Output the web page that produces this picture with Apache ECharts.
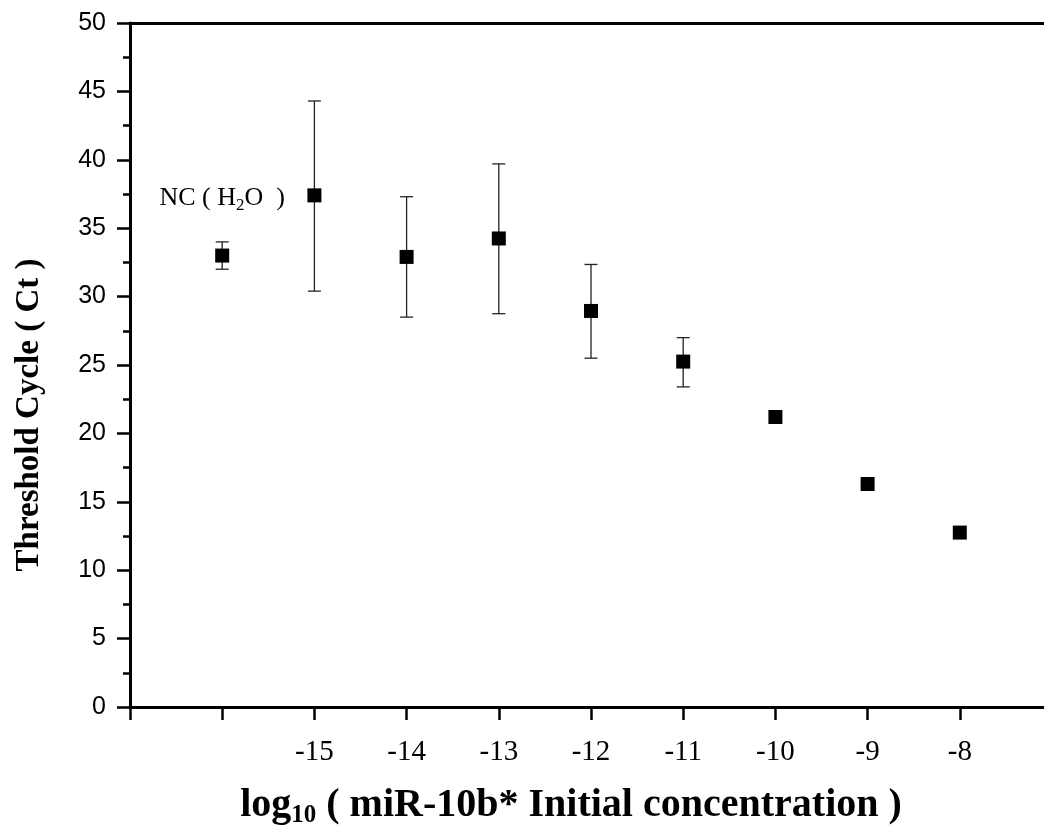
<!DOCTYPE html>
<html><head><meta charset="utf-8">
<script src="https://cdn.jsdelivr.net/npm/echarts@6/dist/echarts.min.js"></script>
<style>html,body{margin:0;padding:0;background:#fff;overflow:hidden}#c{width:1044px;height:827px}</style>
</head><body><div id="c"></div>
<script>
// log10 initial concentration (-16 = NC (H2O) control position)
const concentrations = [-16, -15, -14, -13, -12, -11, -10, -9, -8];
const thresholdCycle = [33.0, 37.4, 32.9, 34.25, 28.95, 25.25, 21.2, 16.3, 12.75];
const errorLow  = [32.0, 30.4, 28.5, 28.75, 25.5, 23.4, null, null, null];
const errorHigh = [34.0, 44.3, 37.3, 39.7, 32.35, 27.0, null, null, null];
const labeledXTicks = [-15, -14, -13, -12, -11, -10, -9, -8];
const ncLabel = '{n|NC ( H}{s|2}{n|O  )}';

const scatterData = concentrations.map((x, i) => {
  const item = { value: [x, thresholdCycle[i]] };
  if (i === 0) {
    item.label = {
      show: true, position: 'top', distance: 35,
      formatter: ncLabel,
      rich: {
        n: { fontFamily: 'Liberation Serif', fontSize: 26, color: '#000', lineHeight: 30, verticalAlign: 'middle' },
        s: { fontFamily: 'Liberation Serif', fontSize: 17, color: '#000', lineHeight: 12, verticalAlign: 'bottom' }
      }
    };
  }
  return item;
});
const errData = [];
concentrations.forEach((x, i) => {
  if (errorLow[i] != null) errData.push([x, errorLow[i], errorHigh[i]]);
});

const chart = echarts.init(document.getElementById('c'), null, { renderer: 'canvas' });
chart.setOption({
  backgroundColor: '#fff',
  animation: false,
  grid: { left: 130, top: 23, bottom: 120, right: -8, containLabel: false, outerBoundsMode: 'none' },
  xAxis: [{
    type: 'value', min: -17, max: -7, interval: 1,
    axisLine: { onZero: false, lineStyle: { color: '#000', width: 3 } },
    axisTick: { show: true, inside: false, length: 13, lineStyle: { color: '#000', width: 2.5 } },
    splitLine: { show: false },
    axisLabel: {
      margin: 31, color: '#000', fontFamily: 'Liberation Serif', fontSize: 29,
      formatter: v => labeledXTicks.includes(v) ? String(v) : ''
    },
    name: '{b|log}{s|10}{b| ( miR-10b* Initial concentration )}',
    nameLocation: 'middle', nameGap: 77,
    nameTextStyle: {
      padding: [0, 40, 0, 0],
      rich: {
        b: { fontFamily: 'Liberation Serif', fontWeight: 'bold', fontSize: 40, color: '#000', lineHeight: 44, verticalAlign: 'middle' },
        s: { fontFamily: 'Liberation Serif', fontWeight: 'bold', fontSize: 25, color: '#000', lineHeight: 14, verticalAlign: 'bottom' }
      }
    }
  }, {
    type: 'value', position: 'top', min: -17, max: -7,
    axisLine: { show: true, onZero: false, lineStyle: { color: '#000', width: 3 } },
    axisTick: { show: false }, axisLabel: { show: false }, splitLine: { show: false }
  }],
  yAxis: {
    type: 'value', min: 0, max: 50, interval: 5,
    axisLine: { show: true, onZero: false, lineStyle: { color: '#000', width: 3 } },
    axisTick: { show: true, inside: false, length: 13, lineStyle: { color: '#000', width: 2.5 } },
    minorTick: { show: true, splitNumber: 2, length: 7, lineStyle: { color: '#000', width: 2.5 } },
    splitLine: { show: false },
    axisLabel: { margin: 24, color: '#000', fontFamily: 'Liberation Sans', fontSize: 25 },
    name: 'Threshold Cycle ( Ct )', nameLocation: 'middle', nameGap: 84, nameRotate: 90,
    nameTextStyle: { fontFamily: 'Liberation Serif', fontWeight: 'bold', fontSize: 33, color: '#000', padding: [0, 100, 0, 0] }
  },
  series: [{
    type: 'custom', z: 1,
    data: errData,
    renderItem: (params, api) => {
      const x = api.value(0), lo = api.value(1), hi = api.value(2);
      const pLo = api.coord([x, lo]), pHi = api.coord([x, hi]);
      const hw = 6.5;
      const style = { stroke: '#222', lineWidth: 1.3, fill: null };
      return { type: 'group', children: [
        { type: 'line', shape: { x1: pLo[0], y1: pLo[1], x2: pHi[0], y2: pHi[1] }, style },
        { type: 'line', shape: { x1: pLo[0] - hw, y1: pLo[1], x2: pLo[0] + hw, y2: pLo[1] }, style },
        { type: 'line', shape: { x1: pHi[0] - hw, y1: pHi[1], x2: pHi[0] + hw, y2: pHi[1] }, style }
      ]};
    }
  }, {
    type: 'scatter', z: 3,
    symbol: 'rect', symbolSize: 14,
    itemStyle: { color: '#000', opacity: 1 },
    data: scatterData
  }]
});
</script></body></html>
